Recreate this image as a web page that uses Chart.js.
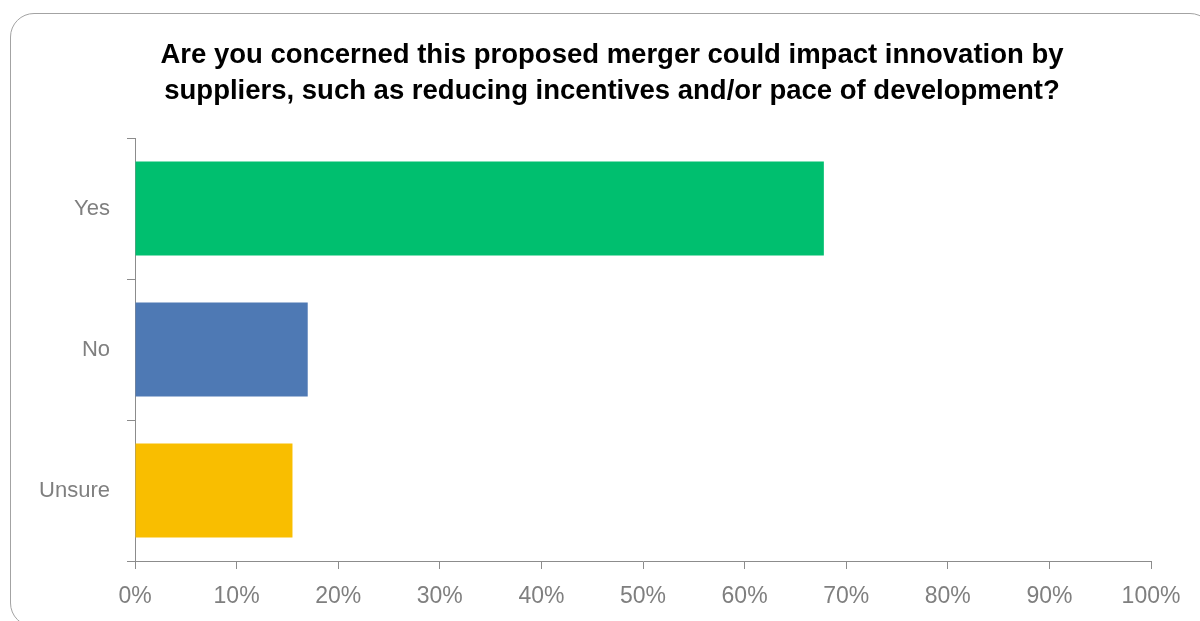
<!DOCTYPE html>
<html>
<head>
<meta charset="utf-8">
<script src="https://cdn.jsdelivr.net/npm/chart.js@4/dist/chart.umd.min.js"></script>
<style>
  html, body { margin: 0; padding: 0; background: #ffffff; overflow: hidden; }
  #wrap { position: relative; width: 1200px; height: 621px; }
  #frame {
    position: absolute; left: 10px; top: 13px; width: 1204px; height: 614px;
    border: 1.5px solid #a3a3a3; border-radius: 24px; box-sizing: border-box;
  }
  #chart { position: absolute; left: 0; top: 0; }
</style>
</head>
<body>
<div id="wrap">
  <div id="frame"></div>
  <canvas id="chart" width="1200" height="621"></canvas>
</div>
<script>
// Survey answers and their share of respondents (%)
const categories = ['Yes', 'No', 'Unsure'];
const shares = [67.8, 17.0, 15.5];
const barColors = ['#00BF6F', '#4E79B4', '#F9BE00'];
const xTickValues = [0, 10, 20, 30, 40, 50, 60, 70, 80, 90, 100];
const titleLines = [
  'Are you concerned this proposed merger could impact innovation by',
  'suppliers, such as reducing incentives and/or pace of development?'
];

const axisGray = '#8c8c8c';
const labelGray = '#7f7f7f';
const sans = '"Liberation Sans", Arial, sans-serif';

new Chart(document.getElementById('chart'), {
  type: 'bar',
  data: {
    labels: categories,
    datasets: [{
      data: shares,
      backgroundColor: barColors,
      borderWidth: 0,
      categoryPercentage: 1,
      barPercentage: 0.667
    }]
  },
  options: {
    indexAxis: 'y',
    responsive: false,
    animation: false,
    // left inset keeps the title centred inside the rounded frame
    layout: { padding: { left: 24, right: 0, top: 0, bottom: 0 } },
    plugins: {
      legend: { display: false },
      tooltip: { enabled: false },
      title: {
        display: true,
        text: titleLines,
        color: '#000000',
        font: { family: sans, size: 27.5, weight: 'bold', lineHeight: 1.3 },
        padding: { top: 37.5, bottom: 29 }
      }
    },
    scales: {
      x: {
        min: 0,
        max: 100,
        afterBuildTicks: (scale) => { scale.ticks = xTickValues.map(v => ({ value: v })); },
        afterFit: (scale) => { scale.height = 60; scale.paddingRight = 49; },
        grid: { drawOnChartArea: false, drawTicks: true, tickLength: 8, color: axisGray },
        border: { color: axisGray, width: 1 },
        ticks: {
          color: labelGray,
          padding: 14,
          font: { family: sans, size: 23 },
          callback: (v) => v + '%'
        }
      },
      y: {
        afterFit: (scale) => { scale.width = 111; },
        grid: { drawOnChartArea: false, drawTicks: true, tickLength: 8, color: axisGray, offset: true },
        border: { color: axisGray, width: 1 },
        ticks: {
          color: labelGray,
          padding: 17,
          font: { family: sans, size: 22 }
        }
      }
    }
  }
});
</script>
</body>
</html>
